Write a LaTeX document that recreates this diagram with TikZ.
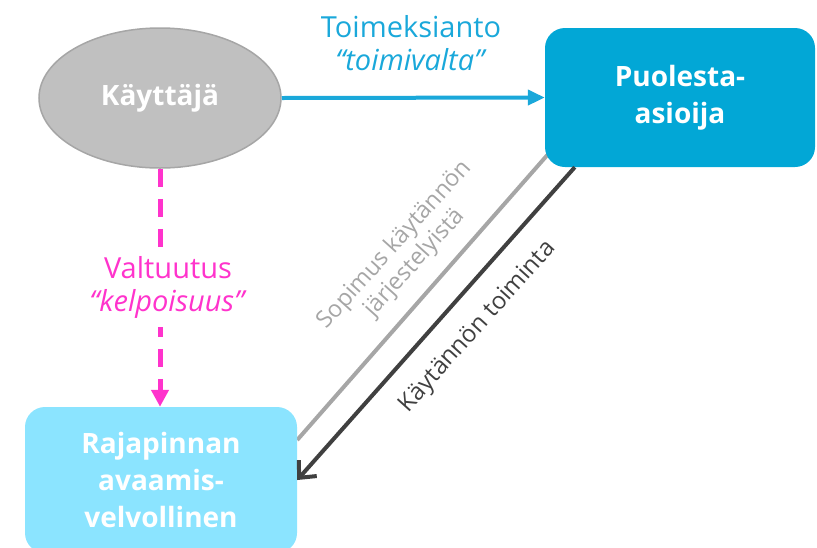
\documentclass[tikz,border=0pt]{standalone}
\usepackage{fontspec}
\setmainfont{Open Sans}
\usetikzlibrary{arrows.meta,shapes.geometric,backgrounds}
\definecolor{toimisininen}{HTML}{02A7D6}
\definecolor{vaaleasininen}{HTML}{8BE4FF}
\definecolor{nuolisininen}{HTML}{1AA8DA}
\definecolor{harmaa}{HTML}{C0C0C0}
\definecolor{reunaharmaa}{HTML}{A6A6A6}
\definecolor{pinkki}{HTML}{FF33CC}
\definecolor{tumma}{HTML}{404040}

\begin{document}
\begin{tikzpicture}[x=1pt, y=-1pt,
    laatikko/.style={rectangle, rounded corners=20pt, align=center, text=white,
      font=\bfseries\fontsize{28}{37}\selectfont},
    teksti/.style={align=center, font=\fontsize{29}{33}\selectfont}]
    \useasboundingbox (0,0) rectangle (817,547);
    \node[ellipse, fill=harmaa, draw=reunaharmaa, line width=1.5pt, inner sep=0pt,
      minimum width=242pt, minimum height=140pt, text=white,
      font=\bfseries\fontsize{28}{37}\selectfont] (kayttaja) at (160,98) {Käyttäjä};
    \node[laatikko, fill=toimisininen, minimum width=270pt, minimum height=139pt] (puolesta) at (680,97.5) {Puolesta-\\asioija};
    \node[laatikko, fill=vaaleasininen, minimum width=272pt, minimum height=146pt] (rajapinta) at (161,480) {Rajapinnan\\avaamis-\\velvollinen};
    % yhteydet
    \draw[nuolisininen, line width=4pt, -{Triangle[length=17pt, width=15pt]}] (kayttaja.east) -- (puolesta.west);
    \draw[pinkki, line width=5pt, dash pattern=on 18pt off 12pt, -{Triangle[length=17pt, width=17pt]}]
      (kayttaja.south) -- (kayttaja.south |- rajapinta.north)
      node[midway, fill=white, inner sep=8pt, teksti, text=pinkki, xshift=8pt] {Valtuutus\\\textit{“kelpoisuus”}};
    \begin{scope}[on background layer]
      \draw[reunaharmaa, line width=4pt] ([shift={(5,-15)}]puolesta.south west) -- ([shift={(0,-40)}]rajapinta.east);
    \end{scope}
    \draw[tumma, line width=4pt, -{Straight Barb[length=13pt, width=24pt]}] ([xshift=30pt]puolesta.south west) -- (rajapinta.east);
    % tekstit
    \node[teksti, text=nuolisininen] (toimeksianto) at (411,43) {Toimeksianto\\\textit{“toimivalta”}};
    \node[align=center, text=reunaharmaa, rotate=48, font=\fontsize{23.5}{27}\selectfont] (sopimus) at (405,254) {Sopimus käytännön\\järjestelyistä};
    \node[text=tumma, rotate=48, font=\fontsize{24}{27}\selectfont] (toiminta) at (478,327) {Käytännön toiminta};
\end{tikzpicture}
\end{document}
